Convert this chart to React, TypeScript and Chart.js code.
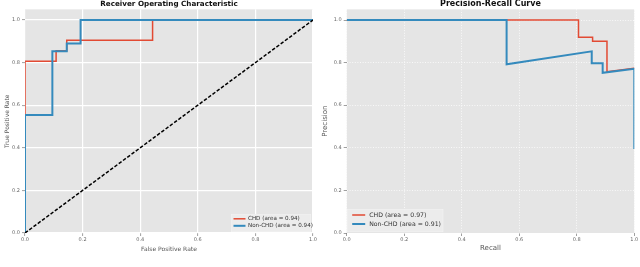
import React, { useEffect, useRef } from "react";
import { Chart, registerables } from "chart.js";

Chart.register(...registerables);

// ---------- data ----------
const AXIS_TICKS = [0, 0.2, 0.4, 0.6, 0.8, 1.0];

const ROC_TITLE = "Receiver Operating Characteristic";
const PR_TITLE = "Precision-Recall Curve";

const ROC_X_LABEL = "False Positive Rate";
const ROC_Y_LABEL = "True Positive Rate";
const PR_X_LABEL = "Recall";
const PR_Y_LABEL = "Precision";

const ROC_CHD_FPR = [0, 0, 0.108, 0.108, 0.145, 0.145, 0.443, 0.443, 1.0];
const ROC_CHD_TPR = [0, 0.806, 0.806, 0.856, 0.856, 0.905, 0.905, 1.0, 1.0];

const ROC_NONCHD_FPR = [0, 0, 0.095, 0.095, 0.145, 0.145, 0.193, 0.193, 1.0];
const ROC_NONCHD_TPR = [0, 0.554, 0.554, 0.853, 0.853, 0.89, 0.89, 1.0, 1.0];

const CHANCE_X = [0, 1];
const CHANCE_Y = [0, 1];

const PR_CHD_RECALL = [0, 0.806, 0.806, 0.855, 0.855, 0.905, 0.905, 1.0];
const PR_CHD_PRECISION = [1.0, 1.0, 0.919, 0.919, 0.9, 0.9, 0.757, 0.774];

const PR_NONCHD_RECALL = [0, 0.556, 0.556, 0.852, 0.852, 0.89, 0.89, 1.0, 1.0];
const PR_NONCHD_PRECISION = [1.0, 1.0, 0.792, 0.853, 0.797, 0.797, 0.752, 0.771, 0.394];

const ROC_LEGEND = ["CHD (area = 0.94)", "Non-CHD (area = 0.94)"];
const PR_LEGEND = ["CHD (area = 0.97)", "Non-CHD (area = 0.91)"];

// ---------- style ----------
const FONT = '"DejaVu Sans", sans-serif';
const RED = "#E24A33";
const BLUE = "#348ABD";
const BG = "#E5E5E5";

const pts = (xs: number[], ys: number[]) => xs.map((x, i) => ({ x, y: ys[i] }));

type LegendSpec = {
  anchor: "lowerRight" | "lowerLeft";
  inset: number;
  insetBottom: number;
  w: number;
  h: number;
  rows: number[];
  lineDx: number;
  lineLen: number;
  textDx: number;
  size: number;
};

type Spec = {
  title: string;
  titleSize: number;
  xLabel: string;
  yLabel: string;
  labelSize: number;
  xTitlePad: number;
  yTitlePad: number;
  yAxisWidth: number;
  padRight: number;
  grid: "solid" | "dotted";
  datasets: any[];
  legendLabels: string[];
  legend: LegendSpec;
};

function makeConfig(spec: Spec): any {
  const bgPlugin = {
    id: "bgFill",
    beforeDraw(chart: any) {
      const { ctx, chartArea: a } = chart;
      ctx.save();
      ctx.fillStyle = BG;
      ctx.fillRect(a.left, a.top, a.right - a.left, a.bottom - a.top);
      ctx.restore();
    },
  };
  const titlePlugin = {
    id: "plotTitle",
    afterDraw(chart: any) {
      const { ctx, chartArea: a } = chart;
      ctx.save();
      ctx.font = `bold ${spec.titleSize}px ${FONT}`;
      ctx.fillStyle = "#111";
      ctx.textAlign = "center";
      ctx.textBaseline = "alphabetic";
      ctx.fillText(spec.title, (a.left + a.right) / 2, 6.4);
      ctx.restore();
    },
  };
  const legendPlugin = {
    id: "plotLegend",
    afterDraw(chart: any) {
      const { ctx, chartArea: a } = chart;
      const L = spec.legend;
      const x0 = L.anchor === "lowerRight" ? a.right - L.inset - L.w : a.left + L.inset;
      const y0 = a.bottom - L.insetBottom - L.h;
      ctx.save();
      ctx.fillStyle = "rgba(236,236,236,0.9)";
      ctx.fillRect(x0, y0, L.w, L.h);
      ctx.strokeStyle = "#f2f2f2";
      ctx.lineWidth = 0.6;
      ctx.strokeRect(x0 + 0.3, y0 + 0.3, L.w - 0.6, L.h - 0.6);
      const colors = [RED, BLUE];
      const widths = [1.5, 2];
      ctx.font = `${L.size}px ${FONT}`;
      ctx.textAlign = "left";
      ctx.textBaseline = "middle";
      spec.legendLabels.forEach((label, i) => {
        const yy = y0 + L.rows[i];
        ctx.beginPath();
        ctx.strokeStyle = colors[i];
        ctx.lineWidth = widths[i];
        ctx.moveTo(x0 + L.lineDx, yy);
        ctx.lineTo(x0 + L.lineDx + L.lineLen, yy);
        ctx.stroke();
        ctx.fillStyle = "#333";
        ctx.fillText(label, x0 + L.textDx, yy);
      });
      ctx.restore();
    },
  };

  const gridOpts =
    spec.grid === "solid"
      ? { color: "#ffffff", lineWidth: 1.2, tickLength: 3, tickColor: "#888", tickWidth: 0.8 }
      : { color: "rgba(255,255,255,0.95)", lineWidth: 0.8, tickLength: 3, tickColor: "#888", tickWidth: 0.8 };
  const borderOpts =
    spec.grid === "solid" ? { display: false } : { display: false, dash: [1, 1.6] };

  const tickOpts = {
    font: { family: FONT, size: 5 },
    color: "#666",
    maxRotation: 0,
    autoSkip: false,
    callback: (v: any) => Number(v).toFixed(1),
  };

  return {
    type: "scatter",
    data: { datasets: spec.datasets },
    options: {
      animation: false,
      responsive: false,
      devicePixelRatio: 1,
      events: [],
      layout: { padding: { left: 0, right: spec.padRight, top: 9.35, bottom: 0 } },
      plugins: { legend: { display: false }, tooltip: { enabled: false }, title: { display: false } },
      elements: { point: { radius: 0 }, line: { tension: 0 } },
      scales: {
        x: {
          type: "linear",
          min: 0,
          max: 1,
          afterBuildTicks: (s: any) => {
            s.ticks = AXIS_TICKS.map((v) => ({ value: v }));
          },
          afterFit: (s: any) => {
            s.height = 34;
          },
          ticks: { ...tickOpts, padding: 1 },
          grid: gridOpts,
          border: borderOpts,
          title: {
            display: true,
            text: spec.xLabel,
            color: "#555",
            font: { family: FONT, size: spec.labelSize, lineHeight: 1 },
            padding: { top: 0, bottom: spec.xTitlePad },
          },
        },
        y: {
          type: "linear",
          min: 0,
          max: 1.05,
          afterBuildTicks: (s: any) => {
            s.ticks = AXIS_TICKS.map((v) => ({ value: v }));
          },
          afterFit: (s: any) => {
            s.width = spec.yAxisWidth;
          },
          ticks: { ...tickOpts, padding: 2 },
          grid: gridOpts,
          border: borderOpts,
          title: {
            display: true,
            text: spec.yLabel,
            color: "#555",
            font: { family: FONT, size: spec.labelSize, lineHeight: 1 },
            padding: { top: spec.yTitlePad, bottom: 0 },
          },
        },
      },
    },
    plugins: [bgPlugin, titlePlugin, legendPlugin],
  };
}

const lineDs = (label: string, data: any[], color: string, width: number, order: number, dash?: number[]) => ({
  label,
  data,
  showLine: true,
  borderColor: color,
  backgroundColor: color,
  borderWidth: width,
  borderDash: dash || [],
  pointRadius: 0,
  fill: false,
  order,
  borderJoinStyle: "miter",
  borderCapStyle: "butt",
});

const rocSpec: Spec = {
  title: ROC_TITLE,
  titleSize: 7.2,
  xLabel: ROC_X_LABEL,
  yLabel: ROC_Y_LABEL,
  labelSize: 6,
  xTitlePad: 14.5,
  yTitlePad: 4,
  yAxisWidth: 25,
  padRight: 7,
  grid: "solid",
  datasets: [
    lineDs("chance", pts(CHANCE_X, CHANCE_Y), "#000000", 1.5, 0, [3.5, 1.8]),
    lineDs(ROC_LEGEND[1], pts(ROC_NONCHD_FPR, ROC_NONCHD_TPR), BLUE, 2, 1),
    lineDs(ROC_LEGEND[0], pts(ROC_CHD_FPR, ROC_CHD_TPR), RED, 1.5, 2),
  ],
  legendLabels: ROC_LEGEND,
  legend: { anchor: "lowerRight", inset: 2, insetBottom: 1, w: 80, h: 18, rows: [4.8, 11.8], lineDx: 2.5, lineLen: 12, textDx: 17, size: 5.6 },
};

const prSpec: Spec = {
  title: PR_TITLE,
  titleSize: 8,
  xLabel: PR_X_LABEL,
  yLabel: PR_Y_LABEL,
  labelSize: 7,
  xTitlePad: 15,
  yTitlePad: 1.5,
  yAxisWidth: 26.7,
  padRight: 5.7,
  grid: "dotted",
  datasets: [
    lineDs(PR_LEGEND[1], pts(PR_NONCHD_RECALL, PR_NONCHD_PRECISION), BLUE, 2, 1),
    lineDs(PR_LEGEND[0], pts(PR_CHD_RECALL, PR_CHD_PRECISION), RED, 1.5, 2),
  ],
  legendLabels: PR_LEGEND,
  legend: { anchor: "lowerLeft", inset: 0.5, insetBottom: 1, w: 96, h: 23, rows: [6, 15], lineDx: 5, lineLen: 13, textDx: 22, size: 6.2 },
};

function ChartCanvas({ spec }: { spec: Spec }) {
  const ref = useRef<HTMLCanvasElement | null>(null);
  useEffect(() => {
    if (!ref.current) return;
    const chart = new Chart(ref.current, makeConfig(spec));
    return () => chart.destroy();
  }, [spec]);
  return <canvas ref={ref} width={320} height={267} style={{ display: "block", width: 320, height: 267 }} />;
}

export default function App() {
  return (
    <div style={{ position: "absolute", left: 0, top: 0, width: 640, height: 267, display: "flex", background: "#fff" }}>
      <ChartCanvas spec={rocSpec} />
      <ChartCanvas spec={prSpec} />
    </div>
  );
}
